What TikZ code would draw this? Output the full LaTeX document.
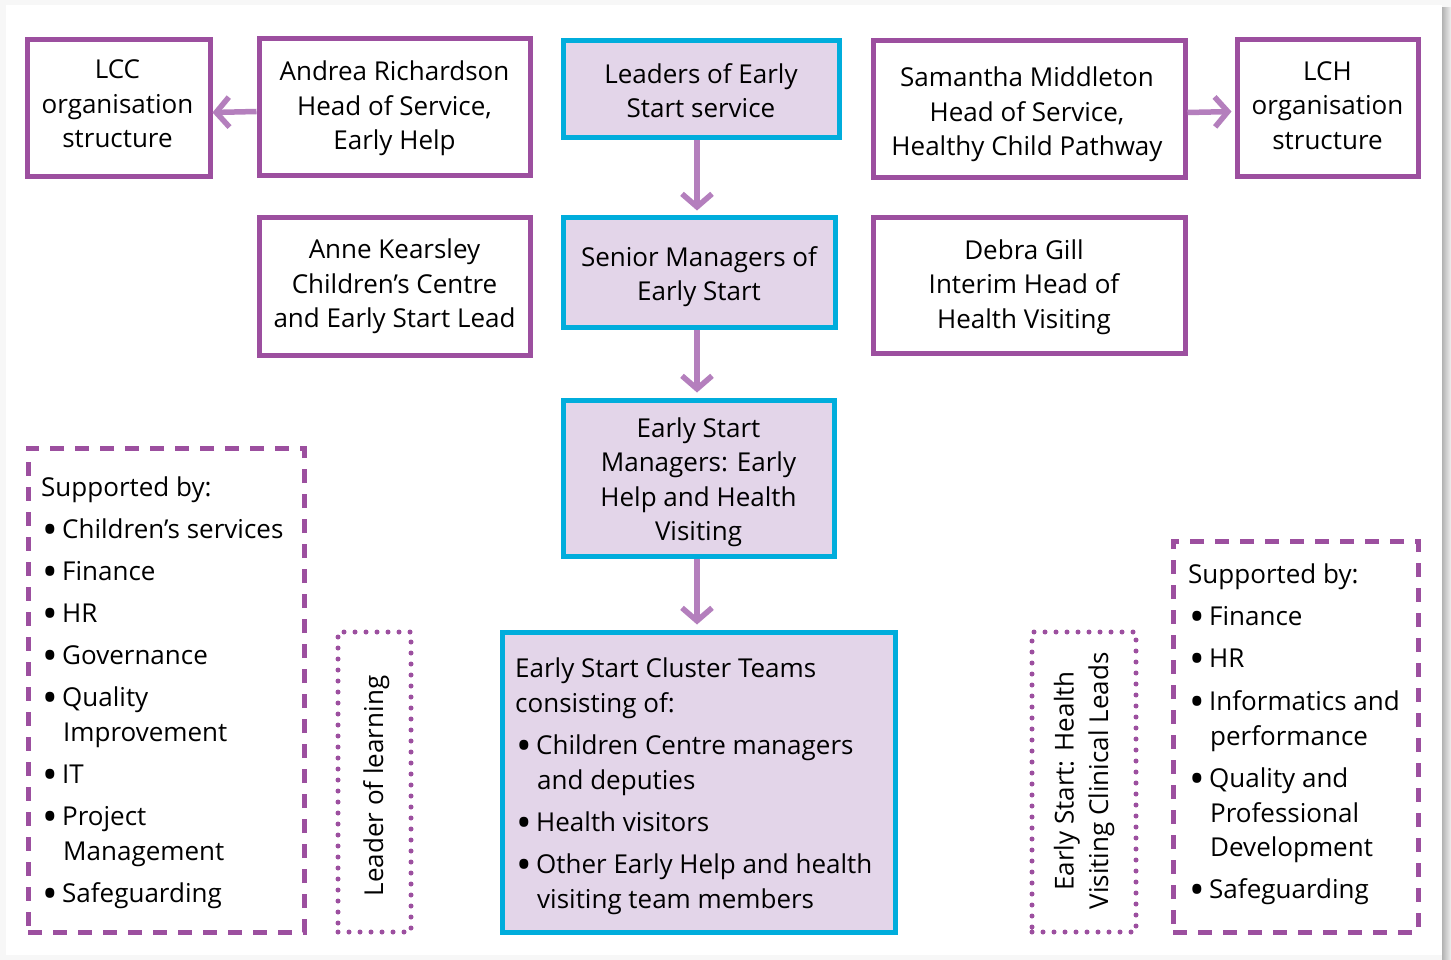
\documentclass[tikz,border=0pt]{standalone}
\usepackage{fontspec}
\usepackage{graphicx}
\setmainfont{Open Sans}
\usetikzlibrary{arrows.meta,calc}
\definecolor{plum}{HTML}{9C4F9F}
\definecolor{arrowplum}{HTML}{B47FBD}
\definecolor{sky}{HTML}{00ADDC}
\definecolor{lilac}{HTML}{E3D5E9}
\newcommand\bul{\makebox[20pt][l]{\raisebox{-6.5pt}{\scalebox{1.6}{\textbullet}}}}

\begin{document}
\begin{tikzpicture}[x=1pt,y=-1pt,
  txt/.style={font=\fontsize{26}{34.5}\selectfont, text=black},
  orgbox/.style={draw=plum, line width=5pt, fill=white, inner sep=0pt},
  keybox/.style={draw=sky, line width=5pt, fill=lilac, inner sep=0pt},
  boxtext/.style={txt, align=center, inner sep=0pt},
  dashbox/.style={draw=plum, line width=5pt, dash pattern=on 14pt off 11pt, inner sep=0pt},
  dotbox/.style={draw=plum, line width=5pt, dash pattern=on 0pt off 11pt, line cap=round, inner sep=0pt},
  link/.style={draw=arrowplum, line width=5.5pt, -{Straight Barb[length=13pt,width=30pt]}},
  listline/.style={txt, anchor=base west, inner sep=0pt}
]
% page and its shadow
\useasboundingbox (0,0) rectangle (1451,960);
\fill[black!3] (0,0) rectangle (1451,960);
\fill[white] (6,5) rectangle (1442,955);
\shade[left color=black!30, right color=black!6] (1442,8) rectangle (1451,960);

% top row
\node[orgbox, minimum width=183pt, minimum height=137pt] (lcc) at (118.5,108.5) {};
\node[orgbox, minimum width=271pt, minimum height=137pt] (andrea) at (394.5,107.5) {};
\node[keybox, minimum width=276pt, minimum height=97pt] (leaders) at (701,89.5) {};
\node[orgbox, minimum width=312pt, minimum height=137pt] (samantha) at (1029,109.5) {};
\node[orgbox, minimum width=181pt, minimum height=137pt] (lch) at (1327.5,108.5) {};

% second row
\node[orgbox, minimum width=271pt, minimum height=137pt] (anne) at (394.5,286.5) {};
\node[keybox, minimum width=272pt, minimum height=109pt] (senior) at (699,272.5) {};
\node[orgbox, minimum width=312pt, minimum height=135pt] (debra) at (1029,285.5) {};

% middle
\node[keybox, minimum width=271pt, minimum height=156pt] (esm) at (698.5,478) {};

% bottom row
\node[keybox, minimum width=393pt, minimum height=300pt] (cluster) at (698.5,782) {};
\node[dashbox, minimum width=276pt, minimum height=484pt] (supleft) at (166,690) {};
\node[dotbox, minimum width=73pt, minimum height=300pt] (learning) at (374.5,782) {};
\node[dotbox, minimum width=104pt, minimum height=300pt] (clinical) at (1084,782) {};
\node[dashbox, minimum width=245pt, minimum height=391pt] (supright) at (1295.5,736.5) {};

% box captions
\node[boxtext] (lcc-t) at ($(lcc)+(-1,-4.5)$) {LCC\\organisation\\structure};
\node[boxtext] (andrea-t) at ($(andrea)+(0,1)$) {Andrea Richardson\\Head of Service,\\Early Help};
\node[boxtext] (leaders-t) at ($(leaders)+(0,1)$) {Leaders of Early\\Start service};
\node[boxtext] (samantha-t) at ($(samantha)+(-2,5)$) {Samantha Middleton\\Head of Service,\\Healthy Child Pathway};
\node[boxtext] (lch-t) at ($(lch)+(0,-3)$) {LCH\\organisation\\structure};
\node[boxtext] (anne-t) at (anne) {Anne Kearsley\\Children’s Centre\\and Early Start Lead};
\node[boxtext] (senior-t) at ($(senior)+(0,4)$) {Senior Managers of\\Early Start};
\node[boxtext] (debra-t) at ($(debra)+(-5,1.5)$) {Debra Gill\\Interim Head of\\Health Visiting};
\node[boxtext] (esm-t) at ($(esm)+(0,4)$) {Early Start\\Managers: Early\\Help and Health\\Visiting};

\node[txt, rotate=90, inner sep=0pt, anchor=base] (learning-t) at (383,786) {Leader of learning};
\node[boxtext, rotate=90] (clinical-t) at (1084,781) {Early Start: Health\\Visiting Clinical Leads};

% list texts
\foreach [count=\i] \x/\y/\t in {
  41/496/{Supported by:},
  42/538/{\bul Children’s services},
  42/580/{\bul Finance},
  42/622/{\bul HR},
  42/664/{\bul Governance},
  42/706/{\bul Quality},
  63/741/{Improvement},
  42/783/{\bul IT},
  42/825/{\bul Project},
  63/860/{Management},
  42/902/{\bul Safeguarding}}
  \node[listline] (sl\i) at (\x,\y) {\t};

\foreach [count=\i] \x/\y/\t in {
  515/677/{Early Start Cluster Teams},
  515/712/{consisting of:},
  516/754/{\bul Children Centre managers},
  537/789/{and deputies},
  516/831/{\bul Health visitors},
  516/873/{\bul Other Early Help and health},
  537/908/{visiting team members}}
  \node[listline] (cl\i) at (\x,\y) {\t};

\foreach [count=\i] \x/\y/\t in {
  1188/583/{Supported by:},
  1189/625/{\bul Finance},
  1189/667/{\bul HR},
  1189/710/{\bul Informatics and},
  1210/745/{performance},
  1189/787/{\bul Quality and},
  1210/822/{Professional},
  1210/856/{Development},
  1189/898/{\bul Safeguarding}}
  \node[listline] (sr\i) at (\x,\y) {\t};

% connectors
\coordinate (spine) at (697,0);
\draw[link] ([yshift=-4pt]andrea.west) -- ([yshift=-4pt]lcc.east);
\draw[link, shorten >=3pt] ([yshift=-3pt]samantha.east) -- ([yshift=-3pt]lch.west);
\draw[link, shorten >=5pt] (leaders.south -| spine) -- (senior.north -| spine);
\draw[link, shorten >=5pt] (senior.south -| spine) -- (esm.north -| spine);
\draw[link, shorten >=5pt] (esm.south -| spine) -- (cluster.north -| spine);
\end{tikzpicture}
\end{document}
